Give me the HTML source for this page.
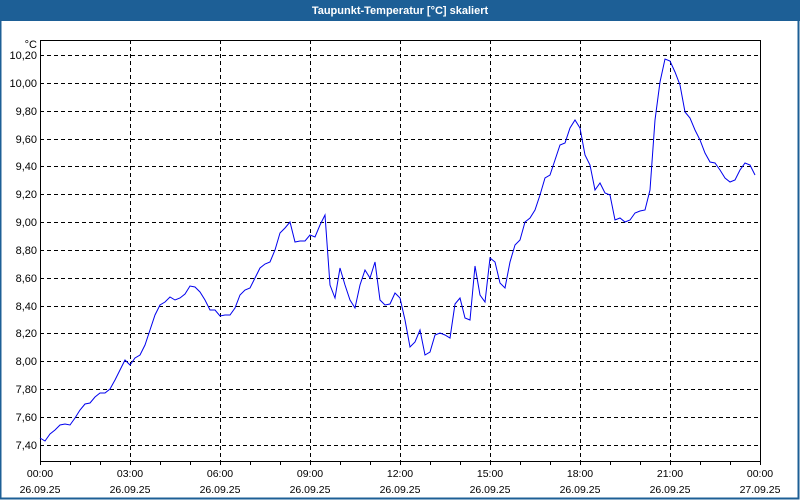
<!DOCTYPE html>
<html><head><meta charset="utf-8"><style>
html,body{margin:0;padding:0;background:#fff}
#w{position:relative;width:800px;height:500px;overflow:hidden}
</style></head><body><div id="w">
<svg width="800" height="500" xmlns="http://www.w3.org/2000/svg" font-family="Liberation Sans, sans-serif" font-size="11">
<rect x="0" y="0" width="800" height="500" fill="#fff"/>
<rect x="0" y="0" width="800" height="21" fill="#1d5f96"/>
<rect x="0.5" y="0.5" width="798" height="498" fill="none" stroke="#1d5f96" stroke-width="2"/>
<text x="400" y="14" fill="#fff" font-weight="bold" text-anchor="middle" font-size="11">Taupunkt-Temperatur [°C] skaliert</text>
<g stroke="#000" stroke-dasharray="4,3" stroke-width="1">
<line x1="40" x2="760" y1="55.5" y2="55.5"/><line x1="40" x2="760" y1="83.5" y2="83.5"/>
<line x1="40" x2="760" y1="111.5" y2="111.5"/><line x1="40" x2="760" y1="139.5" y2="139.5"/>
<line x1="40" x2="760" y1="166.5" y2="166.5"/><line x1="40" x2="760" y1="194.5" y2="194.5"/>
<line x1="40" x2="760" y1="222.5" y2="222.5"/><line x1="40" x2="760" y1="250.5" y2="250.5"/>
<line x1="40" x2="760" y1="278.5" y2="278.5"/><line x1="40" x2="760" y1="306.5" y2="306.5"/>
<line x1="40" x2="760" y1="333.5" y2="333.5"/><line x1="40" x2="760" y1="361.5" y2="361.5"/>
<line x1="40" x2="760" y1="389.5" y2="389.5"/><line x1="40" x2="760" y1="417.5" y2="417.5"/>
<line x1="40" x2="760" y1="445.5" y2="445.5"/>
<line x1="130.5" x2="130.5" y1="40" y2="461"/><line x1="220.5" x2="220.5" y1="40" y2="461"/>
<line x1="310.5" x2="310.5" y1="40" y2="461"/><line x1="400.5" x2="400.5" y1="40" y2="461"/>
<line x1="490.5" x2="490.5" y1="40" y2="461"/><line x1="580.5" x2="580.5" y1="40" y2="461"/>
<line x1="670.5" x2="670.5" y1="40" y2="461"/>
</g>
<rect x="40.5" y="40.5" width="720" height="421" fill="none" stroke="#000"/>
<g stroke="#000">
<path d="M40.5 461v4M70.5 461v4M100.5 461v4M130.5 461v4M160.5 461v4M190.5 461v4M220.5 461v4M250.5 461v4M280.5 461v4M310.5 461v4M340.5 461v4M370.5 461v4M400.5 461v4M430.5 461v4M460.5 461v4M490.5 461v4M520.5 461v4M550.5 461v4M580.5 461v4M610.5 461v4M640.5 461v4M670.5 461v4M700.5 461v4M730.5 461v4M760.5 461v4"/>
</g>
<g text-anchor="end" fill="#000">
<text x="37" y="48">°C</text>
<text x="37" y="59">10,20</text><text x="37" y="87">10,00</text><text x="37" y="115">9,80</text>
<text x="37" y="143">9,60</text><text x="37" y="170">9,40</text><text x="37" y="198">9,20</text>
<text x="37" y="226">9,00</text><text x="37" y="254">8,80</text><text x="37" y="282">8,60</text>
<text x="37" y="310">8,40</text><text x="37" y="337">8,20</text><text x="37" y="365">8,00</text>
<text x="37" y="393">7,80</text><text x="37" y="421">7,60</text><text x="37" y="449">7,40</text>
</g>
<g text-anchor="middle" fill="#000" font-size="10.5">
<text x="40" y="477">00:00</text><text x="130" y="477">03:00</text><text x="220" y="477">06:00</text>
<text x="310" y="477">09:00</text><text x="400" y="477">12:00</text><text x="490" y="477">15:00</text>
<text x="580" y="477">18:00</text><text x="670" y="477">21:00</text><text x="760" y="477">00:00</text>
<text x="40" y="493">26.09.25</text><text x="130" y="493">26.09.25</text><text x="220" y="493">26.09.25</text>
<text x="310" y="493">26.09.25</text><text x="400" y="493">26.09.25</text><text x="490" y="493">26.09.25</text>
<text x="580" y="493">26.09.25</text><text x="670" y="493">26.09.25</text><text x="760" y="493">27.09.25</text>
</g>
<polyline fill="none" stroke="#0000ee" stroke-width="1" points="40,438 45,441 50,434 55,430 60,425 65,424 70,425 75,418 80,410 85,404 90,403 95,397 100,393 105,393 110,389 115,380 120,370 125,360 130,365 135,358 140,355 145,345 150,330 155,315 160,305 165,302 170,297 175,300 180,298 185,294 190,286 195,287 200,292 205,300 210,310 215,310 220,316 225,315 230,315 235,308 240,295 245,290 250,288 255,278 260,268 265,264 270,262 275,250 280,233 285,228 290,222 295,242 300,241 305,241 310,235 315,237 320,225 325,215 330,285 335,298 340,268 345,285 350,300 355,308 360,285 365,270 370,278 375,262 380,300 385,305 390,304 395,293 400,298 405,320 410,347 415,342 420,330 425,355 430,352 435,335 440,333 445,335 450,338 455,304 460,298 465,318 470,320 475,266 480,295 485,302 490,258 495,262 500,283 505,288 510,262 515,245 520,240 525,222 530,218 535,210 540,195 545,178 550,175 555,160 560,145 565,143 570,128 575,120 580,128 585,155 590,165 595,190 600,183 605,193 610,195 615,220 620,218 625,222 630,220 635,213 640,211 645,210 650,190 655,120 660,82 665,59 670,61 675,72 680,85 685,112 690,118 695,130 700,140 705,153 710,162 715,163 720,170 725,178 730,182 735,180 740,170 745,163 750,165 755,175"/>
</svg>
</div></body></html>
